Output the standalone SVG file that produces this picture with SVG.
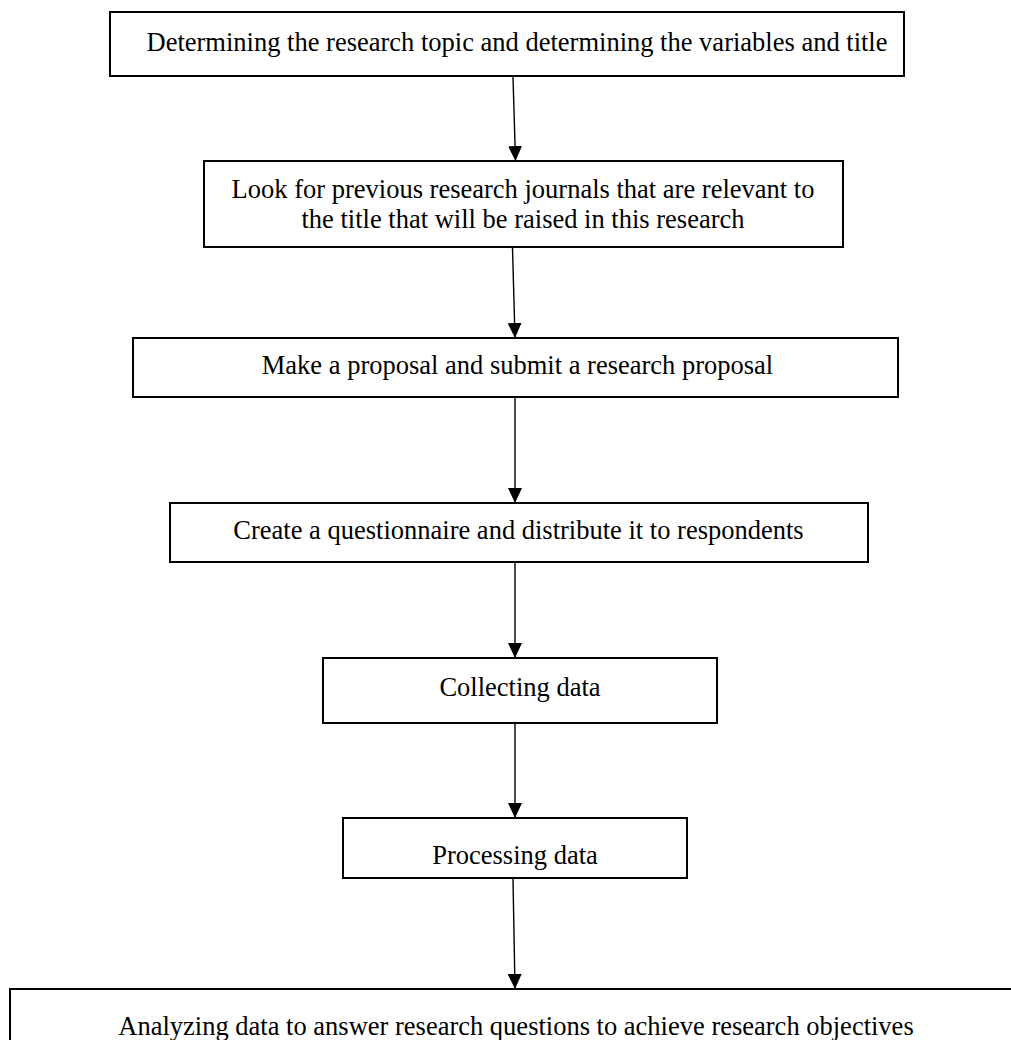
<svg xmlns="http://www.w3.org/2000/svg" width="1011" height="1040" viewBox="0 0 1011 1040">
<style>
.box{fill:#fff;stroke:#000;stroke-width:2}
.t{font-family:"Liberation Serif","Times New Roman",serif;font-size:26.5px;fill:#000;text-anchor:middle}
.c{stroke:#000;stroke-width:1.4;fill:none;marker-end:url(#ah)}
</style>
<defs>
<marker id="ah" markerUnits="userSpaceOnUse" markerWidth="15" markerHeight="14" refX="15" refY="7" orient="auto" viewBox="0 0 15 14">
<path d="M0,0 L15,7 L0,14 z" fill="#000"/>
</marker>
</defs>
<rect width="1011" height="1040" fill="#fff"/>
<g id="connectors">
<line class="c" x1="513" y1="77" x2="515.5" y2="161"/>
<line class="c" x1="512.5" y1="248" x2="515" y2="338"/>
<line class="c" x1="515" y1="398" x2="515" y2="503"/>
<line class="c" x1="515" y1="563" x2="515" y2="658"/>
<line class="c" x1="515" y1="724" x2="515" y2="818"/>
<line class="c" x1="513" y1="879" x2="515" y2="989"/>
</g>
<g id="n1"><rect class="box" x="110" y="12" width="794" height="64"/><text class="t" x="517" y="51">Determining the research topic and determining the variables and title</text></g>
<g id="n2"><rect class="box" x="204" y="161" width="639" height="86"/><text class="t" x="523" y="198">Look for previous research journals that are relevant to</text><text class="t" x="523" y="228">the title that will be raised in this research</text></g>
<g id="n3"><rect class="box" x="133" y="338" width="765" height="59"/><text class="t" x="517.5" y="374">Make a proposal and submit a research proposal</text></g>
<g id="n4"><rect class="box" x="170" y="503" width="698" height="59"/><text class="t" x="518.5" y="539">Create a questionnaire and distribute it to respondents</text></g>
<g id="n5"><rect class="box" x="323" y="658" width="394" height="65"/><text class="t" x="520" y="696">Collecting data</text></g>
<g id="n6"><rect class="box" x="343" y="818" width="344" height="60"/><text class="t" x="515" y="864">Processing data</text></g>
<g id="n7"><rect class="box" x="10" y="989" width="1010" height="70"/><text class="t" x="516" y="1035">Analyzing data to answer research questions to achieve research objectives</text></g>
</svg>
